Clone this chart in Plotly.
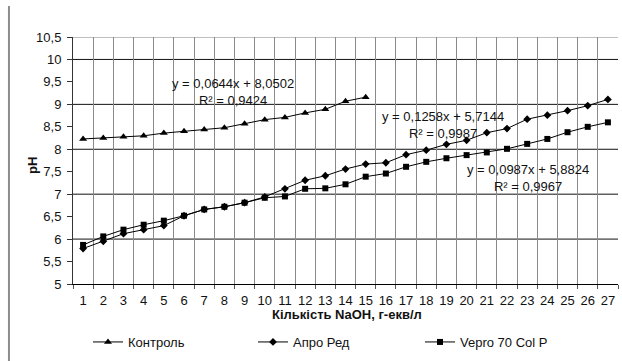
import plotly.graph_objects as go

x_kontrol = list(range(1, 16))
kontrol = [8.23, 8.25, 8.28, 8.30, 8.36, 8.40, 8.44, 8.48, 8.57, 8.66, 8.71, 8.81, 8.89, 9.07, 9.16]

x_all = list(range(1, 28))
apro = [5.79, 5.95, 6.12, 6.21, 6.30, 6.52, 6.66, 6.72, 6.81, 6.94, 7.12, 7.31, 7.41, 7.56, 7.67,
        7.70, 7.88, 7.98, 8.11, 8.20, 8.37, 8.46, 8.67, 8.76, 8.86, 8.97, 9.11]
vepro = [5.87, 6.06, 6.21, 6.32, 6.41, 6.52, 6.66, 6.72, 6.81, 6.92, 6.95, 7.12, 7.13, 7.22, 7.39,
         7.46, 7.61, 7.72, 7.80, 7.87, 7.93, 8.01, 8.12, 8.23, 8.38, 8.50, 8.60]

names = ["Контроль", "Апро Ред", "Vepro 70 Col P"]
eq_texts = ["y = 0,0644x + 8,0502<br>R² = 0,9424",
            "y = 0,1258x + 5,7144<br>R² = 0,9987",
            "y = 0,0987x + 5,8824<br>R² = 0,9967"]
eq_pos = [(8.43, 9.28), (18.83, 8.54), (23.02, 7.35)]
y_grid_major = [6, 7, 8, 9, 10]
x_title = "Кількість NaOH, г-екв/л"
y_title = "pH"

FONT = "Liberation Sans, Arial, sans-serif"
TXT = "#111"

fig = go.Figure()
fig.add_trace(go.Scatter(x=x_kontrol, y=kontrol, name=names[0], mode="lines+markers",
                         legend="legend",
                         line=dict(color="black", width=1),
                         marker=dict(symbol="triangle-up", size=7, color="black")))
fig.add_trace(go.Scatter(x=x_all, y=apro, name=names[1], mode="lines+markers",
                         legend="legend2",
                         line=dict(color="black", width=1),
                         marker=dict(symbol="diamond", size=6, color="black")))
fig.add_trace(go.Scatter(x=x_all, y=vepro, name=names[2], mode="lines+markers",
                         legend="legend3",
                         line=dict(color="black", width=1),
                         marker=dict(symbol="square", size=6, color="black")))

for txt, (ax, ay) in zip(eq_texts, eq_pos):
    fig.add_annotation(x=ax, y=ay, xref="x", yref="y", text=txt, showarrow=False,
                       align="center", font=dict(family=FONT, size=13, color=TXT))

# axis titles
fig.add_annotation(x=0.502, y=-0.1255, xref="paper", yref="paper", text=f"<b>{x_title}</b>",
                   showarrow=False, xanchor="center", yanchor="middle",
                   font=dict(family=FONT, size=13, color=TXT))
fig.add_annotation(x=-0.0734, y=0.482, xref="paper", yref="paper", text=f"<b>{y_title}</b>",
                   showarrow=False, xanchor="center", yanchor="middle", textangle=-90,
                   font=dict(family=FONT, size=13, color=TXT))

for g in y_grid_major:
    fig.add_shape(type="line", xref="paper", yref="y", x0=0, x1=1, y0=g, y1=g,
                  line=dict(color="#111", width=1), layer="below")
# top border
fig.add_shape(type="line", xref="paper", yref="y", x0=0, x1=1, y0=10.5, y1=10.5,
              line=dict(color="#808080", width=1), layer="below")
# left frame line of chart area
fig.add_shape(type="line", xref="paper", yref="paper", x0=-0.1175, x1=-0.1175, y0=1.126, y1=-0.32,
              line=dict(color="#8c8c8c", width=2))


def leg(xpx):
    return dict(orientation="h", xref="container", yref="container",
                x=xpx / 622, y=1 - 342 / 361, xanchor="left", yanchor="middle",
                font=dict(family=FONT, size=13, color=TXT),
                bgcolor="rgba(0,0,0,0)", itemwidth=30)


fig.update_layout(
    width=622, height=361,
    margin=dict(l=73, r=4, t=37, b=77, autoexpand=False),
    paper_bgcolor="white", plot_bgcolor="white",
    separators=", ",
    font=dict(family=FONT, size=13, color=TXT),
    showlegend=True,
    legend=leg(88), legend2=leg(253), legend3=leg(420),
    xaxis=dict(range=[0.5, 27.5], tickmode="array", tickvals=x_all,
               ticktext=[str(v) for v in x_all], ticks="", showgrid=False,
               showline=True, linecolor="black", linewidth=1,
               zeroline=False, automargin=False, ticklabelstandoff=4,
               tickfont=dict(family=FONT, size=13, color=TXT),
               minor=dict(tickmode="linear", tick0=0.5, dtick=1, ticks="outside",
                          ticklen=4, tickcolor="#555", showgrid=True,
                          gridcolor="#8a8a8a", gridwidth=1)),
    yaxis=dict(range=[5, 10.5], tickmode="linear", tick0=5, dtick=0.5,
               ticks="outside", ticklen=5, tickcolor="#333",
               showgrid=False, zeroline=False, automargin=False,
               showline=True, linecolor="#333", linewidth=1, ticklabelstandoff=3,
               tickfont=dict(family=FONT, size=13, color=TXT)),
)

fig.write_html("out.html", config={"displayModeBar": False},
               post_script="document.body.style.margin='0';document.body.style.overflow='hidden';")
